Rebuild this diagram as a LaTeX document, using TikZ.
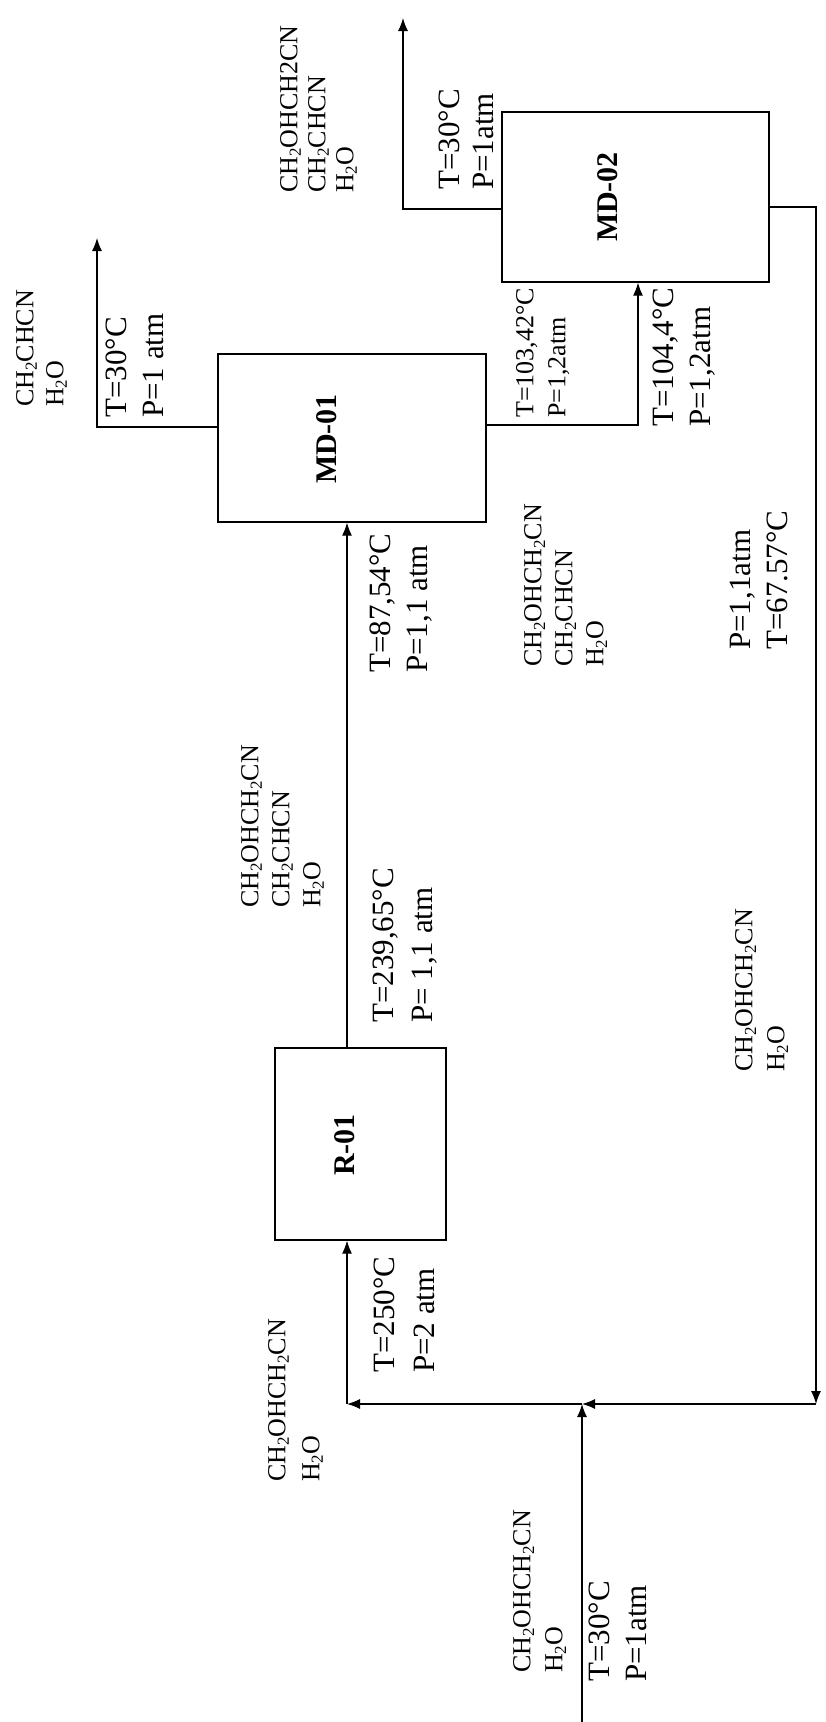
\documentclass[tikz,border=0pt]{standalone}
\usepackage{fontspec}
\setmainfont{Liberation Serif}
\usetikzlibrary{arrows.meta}
\newcommand{\chsub}[1]{\raisebox{-0.3ex}{\scalebox{0.65}{#1}}}

\begin{document}
\begin{tikzpicture}[x=1pt,y=-1pt,
    unit/.style={draw,line width=1.2pt,inner sep=0pt},
    unitlbl/.style={rotate=90,inner sep=0pt,font=\fontsize{30}{30}\selectfont\bfseries},
    cond/.style={rotate=90,anchor=north west,inner sep=0pt,align=left,
                 font=\fontsize{31}{37}\selectfont},
    comp/.style={rotate=90,anchor=north west,inner sep=0pt,align=left,
                 font=\fontsize{26}{31}\selectfont},
    flow/.style={line width=1.2pt,-{Latex[length=13pt,width=10pt]}},
  ]
    \useasboundingbox (0,0) rectangle (825,1722);

    % Units
    \node[unit,minimum width=171pt,minimum height=192pt] (r01)  at (360.5,1144) {};
    \node[unit,minimum width=268pt,minimum height=168pt] (md01) at (352,438) {};
    \node[unit,minimum width=267pt,minimum height=170pt] (md02) at (635.5,197) {};
    \node[unitlbl] (r01lbl)  at (345,1145) {R-01};
    \node[unitlbl] (md01lbl) at (327,439) {MD-01};
    \node[unitlbl] (md02lbl) at (608,197) {MD-02};

    % Points of the streams
    \coordinate (d2)    at (403,209);
    \coordinate (d2end) at (403,18);
    \coordinate (d1)    at (97,427);
    \coordinate (d1end) at (97,238);
    \coordinate (b1)    at (638,425);
    \coordinate (b2)    at (816,207);
    \coordinate (b2end) at (816,1404);
    \coordinate (mix)   at (582,1404);
    \coordinate (turn)  at (347,1404);
    \coordinate (feed)  at (582,1722);

    % Streams
    \draw[flow] (md02.west |- d2) -- (d2) -- (d2end);
    \draw[flow] (md01.west |- d1) -- (d1) -- (d1end);
    \draw[flow] (md01.east |- b1) -- (b1) -- (b1 |- md02.south);
    \draw[flow] (md02.east |- b2) -- (b2) -- (b2end);
    \draw[flow] (b2end) -- (mix);
    \draw[flow] (mix) -- (turn);
    \draw[flow] (turn) -- (turn |- r01.south);
    \draw[flow] (feed) -- (mix);
    \draw[flow] (r01.north -| turn) -- (md01.south -| turn);

    % Stream data
    \node[cond,font=\fontsize{31}{34}\selectfont] (c2top) at (439,190) {T=30°C\\P=1atm};
    \node[comp,font=\fontsize{26}{28}\selectfont] (s2top) at (280,193)
      {CH\chsub{2}OHCH2CN\\CH\chsub{2}CHCN\\H\chsub{2}O};
    \node[cond] (c1top) at (106,418) {T=30°C\\P=1 atm};
    \node[comp,font=\fontsize{26}{30}\selectfont] (s1top) at (16,407)
      {CH\chsub{2}CHCN\\H\chsub{2}O};
    \node[comp,font=\fontsize{26}{32}\selectfont] (c1bot) at (516,418)
      {T=103,42°C\\P=1,2atm};
    \node[cond] (c2in) at (653,427) {T=104,4°C\\P=1,2atm};
    \node[cond] (c1in) at (370,673) {T=87,54°C\\P=1,1 atm};
    \node[comp] (s1bot) at (524,667)
      {CH\chsub{2}OHCH\chsub{2}CN\\CH\chsub{2}CHCN\\H\chsub{2}O};
    \node[cond] (crec) at (730,650) {P=1,1atm\\T=67.57°C};
    \node[comp,font=\fontsize{26}{32}\selectfont] (srec) at (735,1072)
      {CH\chsub{2}OHCH\chsub{2}CN\\H\chsub{2}O};
    \node[cond,font=\fontsize{31}{39}\selectfont] (cout) at (373,1023)
      {T=239,65°C\\P= 1,1 atm};
    \node[comp] (sout) at (241,908)
      {CH\chsub{2}OHCH\chsub{2}CN\\CH\chsub{2}CHCN\\H\chsub{2}O};
    \node[cond,font=\fontsize{31}{40}\selectfont] (cin) at (374,1373) {T=250°C\\P=2 atm};
    \node[comp,font=\fontsize{26}{34}\selectfont] (sin) at (268,1482)
      {CH\chsub{2}OHCH\chsub{2}CN\\H\chsub{2}O};
    \node[comp,font=\fontsize{26}{32}\selectfont] (sfeed) at (513,1673)
      {CH\chsub{2}OHCH\chsub{2}CN\\H\chsub{2}O};
    \node[cond] (cfeed) at (589,1682) {T=30°C\\P=1atm};

  \end{tikzpicture}
\end{document}
